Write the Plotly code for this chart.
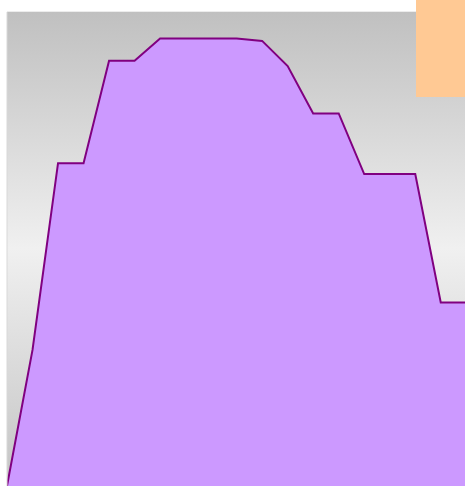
import plotly.graph_objects as go

# Data
x_idx = list(range(19))
values = [0, 28.7, 68.1, 68.1, 89.7, 89.7, 94.4, 94.4, 94.4, 94.4, 93.9, 88.6,
          78.6, 78.6, 65.8, 65.8, 65.8, 38.7, 38.7]

X_RANGE = [0, 17.95]
Y_RANGE = [0, 100]

fig = go.Figure()

# gradient background of the plot area
fig.add_trace(go.Scatter(
    x=[X_RANGE[0], X_RANGE[1], X_RANGE[1], X_RANGE[0], X_RANGE[0]],
    y=[Y_RANGE[0], Y_RANGE[0], Y_RANGE[1], Y_RANGE[1], Y_RANGE[0]],
    fill="toself",
    fillgradient=dict(type="vertical",
                      colorscale=[[0, "#c4c4c4"], [0.5, "#f0f0f0"], [1, "#c0c0c0"]]),
    line=dict(width=0),
    mode="lines",
    hoverinfo="skip",
    showlegend=False,
))

fig.add_trace(go.Scatter(
    x=x_idx, y=values,
    mode="lines",
    fill="tozeroy",
    fillcolor="#cc99ff",
    line=dict(color="#800080", width=2),
    showlegend=False,
    cliponaxis=True,
))

W, H = 465, 486
ml, mt = 7, 12
pw, ph = W - ml, H - mt

fig.update_layout(
    width=W, height=H,
    margin=dict(l=ml, r=0, t=mt, b=0, pad=0),
    paper_bgcolor="white",
    plot_bgcolor="white",
    showlegend=False,
    xaxis=dict(range=X_RANGE, visible=False, showgrid=False, zeroline=False),
    yaxis=dict(range=Y_RANGE, visible=False, showgrid=False, zeroline=False),
    shapes=[
        dict(type="line", xref="paper", yref="paper", x0=0, x1=0, y0=0, y1=1,
             line=dict(color="#d8d8d8", width=1), layer="above"),
        dict(type="line", xref="paper", yref="paper", x0=0, x1=1, y0=1, y1=1,
             line=dict(color="#d8d8d8", width=1), layer="below"),
        dict(type="rect", xref="paper", yref="paper",
             x0=(416 - ml) / pw, x1=1.01,
             y0=1 - (97 - mt) / ph, y1=1 + mt / ph + 0.01,
             fillcolor="#ffc994", line=dict(width=0), layer="above"),
    ],
)

fig.write_html(
    "out.html",
    config={"displayModeBar": False},
    post_script="document.body.style.margin='0';document.body.style.overflow='hidden';",
)
